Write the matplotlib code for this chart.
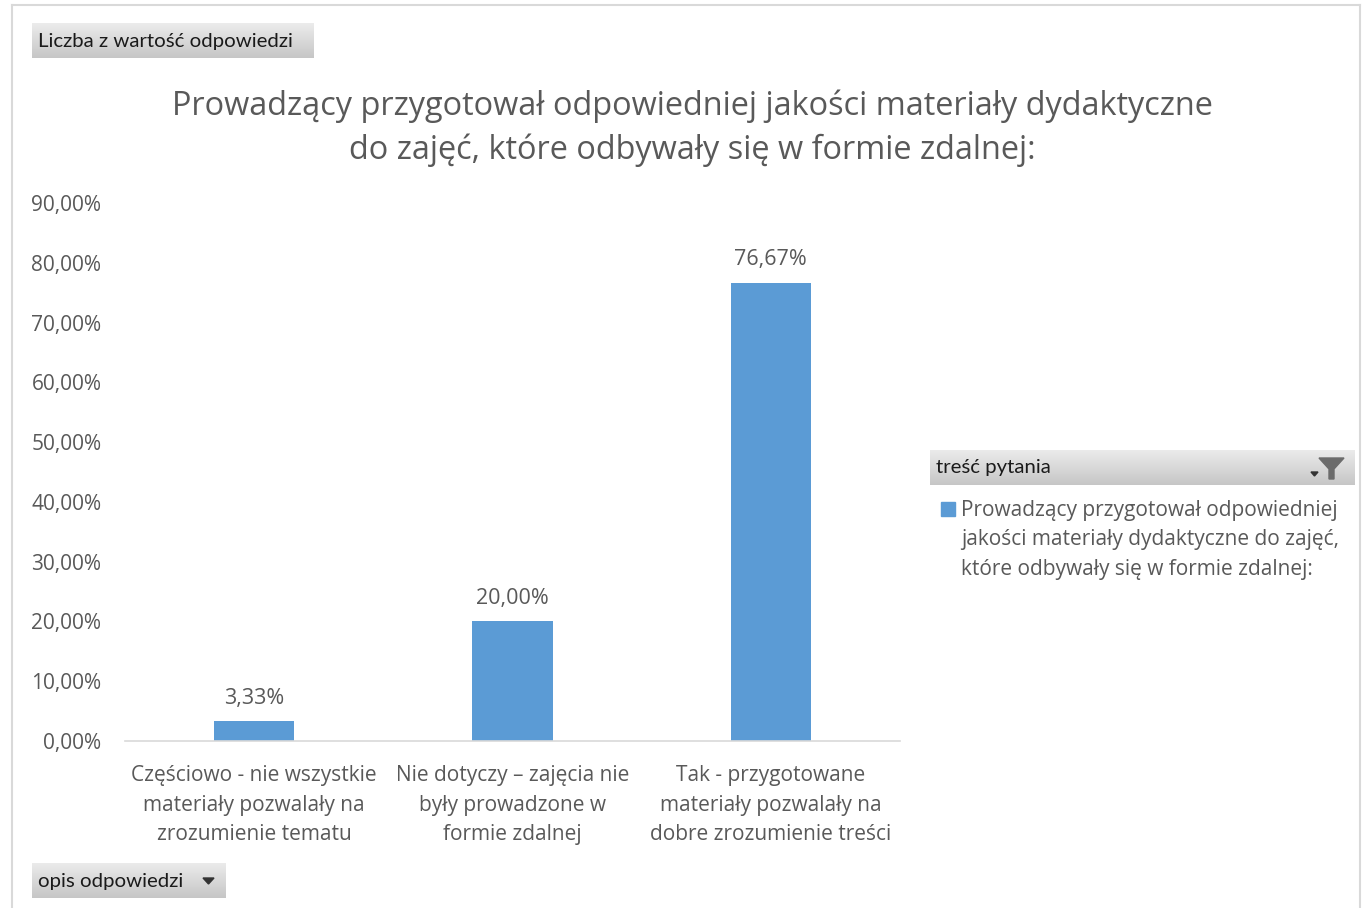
import numpy as np
import matplotlib
matplotlib.use("Agg")
import matplotlib.pyplot as plt
from matplotlib.patches import Rectangle, Polygon
from matplotlib.lines import Line2D

plt.rcParams["font.family"] = ["Open Sans", "DejaVu Sans"]

# ── DATA ───────────────────────────────────────────────────────────────────
categories = [
    "Częściowo - nie wszystkie\nmateriały pozwalały na\nzrozumienie tematu",
    "Nie dotyczy – zajęcia nie\nbyły prowadzone w\nformie zdalnej",
    "Tak - przygotowane\nmateriały pozwalały na\ndobre zrozumienie treści",
]
values = [3.33, 20.00, 76.67]
y_ticks = [0, 10, 20, 30, 40, 50, 60, 70, 80, 90]

title = ("Prowadzący przygotował odpowiedniej jakości materiały dydaktyczne\n"
         "do zajęć, które odbywały się w formie zdalnej:")
legend_label = ("Prowadzący przygotował odpowiedniej\n"
                "jakości materiały dydaktyczne do zajęć,\n"
                "które odbywały się w formie zdalnej:")

BAR = "#5b9bd5"
TXT = "#595959"

W, H = 1363, 908
fig = plt.figure(figsize=(W / 100, H / 100), dpi=100, facecolor="white")


def fx(px):
    return px / W


def fy(py):
    return 1 - py / H


# outer frame
for xs, ys in [([12, 12], [5, 908]), ([12, 1360], [5, 5]), ([1360, 1360], [5, 908])]:
    fig.add_artist(Line2D([fx(x) for x in xs], [fy(y) for y in ys],
                          color="#d9d9d9", lw=1.5, transform=fig.transFigure))


def gray_button(x0, y0, x1, y1):
    ax_b = fig.add_axes([fx(x0), fy(y1), fx(x1) - fx(x0), fy(y0) - fy(y1)])
    grad = np.linspace(0, 1, 64).reshape(-1, 1)
    ax_b.imshow(grad, aspect="auto", cmap=matplotlib.colors.LinearSegmentedColormap.from_list(
        "g", ["#ececec", "#c6c6c6"]), extent=[0, 1, 1, 0])
    ax_b.set_axis_off()
    return ax_b


BTN_FONT = ["Lato", "DejaVu Sans"]

# pivot buttons
gray_button(32, 23, 314, 58)
fig.text(fx(38), fy(41), "Liczba z wartość odpowiedzi", fontsize=14.7,
         color="#1a1a1a", va="center", ha="left", family=BTN_FONT)
gray_button(32, 863, 226, 898)
fig.text(fx(38), fy(881), "opis odpowiedzi", fontsize=14.7,
         color="#1a1a1a", va="center", ha="left", family=BTN_FONT)
fig.add_artist(Polygon([[fx(203), fy(878)], [fx(214), fy(878)], [fx(208.5), fy(884)]],
                       closed=True, color="#333333", transform=fig.transFigure))

# legend header
gray_button(930, 450, 1355, 485)
fig.text(fx(936), fy(468), "treść pytania", fontsize=14.7,
         color="#1a1a1a", va="center", ha="left", family=BTN_FONT)
# funnel icon
fig.add_artist(Polygon([[fx(1319), fy(458)], [fx(1344), fy(458)], [fx(1334), fy(469)],
                        [fx(1334), fy(479)], [fx(1329), fy(479)], [fx(1329), fy(469)]],
                       closed=True, color="#6b6b6b", transform=fig.transFigure))
fig.add_artist(Polygon([[fx(1311), fy(472)], [fx(1318), fy(472)], [fx(1314.5), fy(476)]],
                       closed=True, color="#333333", transform=fig.transFigure))

# legend entry
fig.add_artist(Rectangle((fx(941), fy(516)), fx(14), fy(0) - fy(14),
                         color=BAR, transform=fig.transFigure))
fig.text(fx(961), fy(540), legend_label, fontsize=15, color=TXT,
         va="center", ha="left", linespacing=1.53)

# title
fig.text(fx(692), fy(128), title, fontsize=23.4, color=TXT,
         ha="center", va="center", linespacing=1.43)

# ── MAIN AXES ──────────────────────────────────────────────────────────────
ax = fig.add_axes([fx(125), fy(741), fx(900) - fx(125), fy(203) - fy(741)])
x = np.arange(len(categories))
bars = ax.bar(x, values, width=0.31, color=BAR, zorder=2)
ax.set_xlim(-0.5, len(categories) - 0.5)
ax.set_ylim(0, 90)
ax.set_yticks(y_ticks)
ax.set_yticklabels([f"{v:.2f}%".replace(".", ",") for v in y_ticks])
ax.set_xticks(x)
ax.set_xticklabels(categories, linespacing=1.53)

for sp in ["top", "right", "left"]:
    ax.spines[sp].set_visible(False)
ax.spines["bottom"].set_color("#d9d9d9")
ax.spines["bottom"].set_linewidth(1.2)
ax.tick_params(axis="both", length=0, colors=TXT, labelsize=15)
ax.tick_params(axis="y", pad=17)
ax.tick_params(axis="x", pad=17.5)

for rect, v in zip(bars, values):
    ax.annotate(f"{v:.2f}%".replace(".", ","),
                (rect.get_x() + rect.get_width() / 2, rect.get_height()),
                xytext=(0, 9), textcoords="offset points",
                ha="center", va="bottom", fontsize=15.5, color=TXT)

fig.savefig("out.png", dpi=100, facecolor="white")
